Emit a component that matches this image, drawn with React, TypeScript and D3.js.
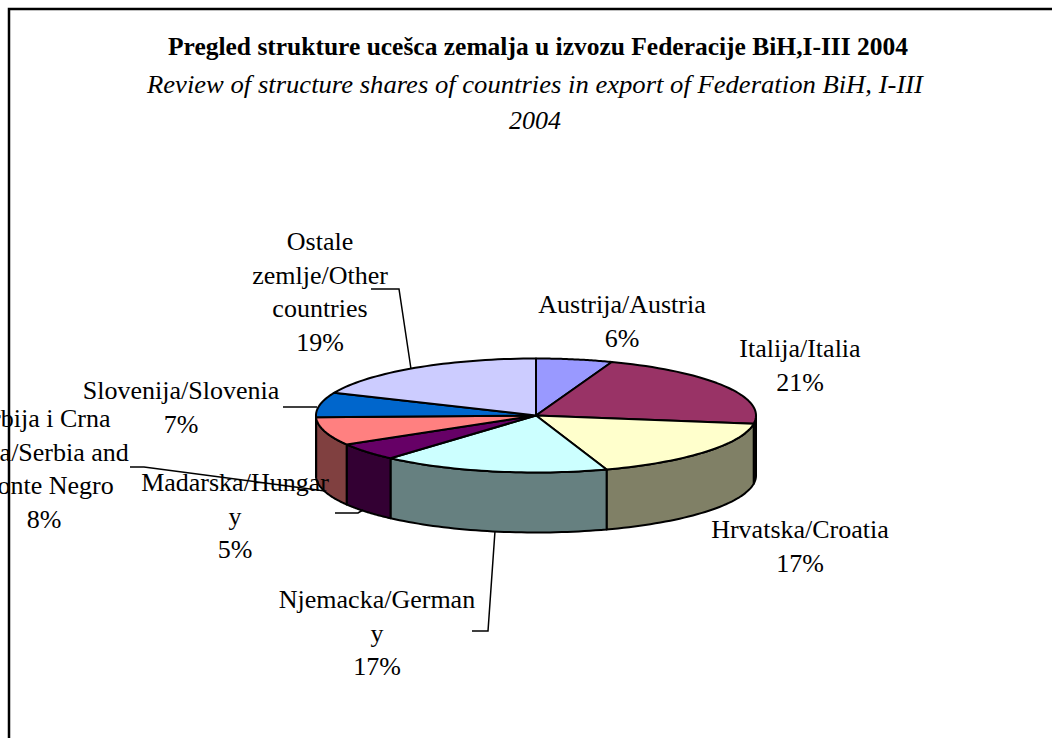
import React from "react";
import * as d3 from "d3";

// data
const countries = ["Austria", "Italy", "Croatia", "Germany", "Hungary", "SerbiaMN", "Slovenia", "Other"];
const shares = [5.6, 21.7, 17.5, 16.7, 5, 8, 7, 18.5];
const topColors = ["#9999FF", "#993366", "#FFFFCC", "#CCFFFF", "#660066", "#FF8080", "#0066CC", "#CCCCFF"];
const sideColors = ["#4d4d80", "#4d1a33", "#808066", "#668080", "#330033", "#804040", "#003366", "#666680"];
const labelLines = [
  ["Austrija/Austria", "6%"],
  ["Italija/Italia", "21%"],
  ["Hrvatska/Croatia", "17%"],
  ["Njemacka/German", "y", "17%"],
  ["Madarska/Hungar", "y", "5%"],
  ["Srbija i Crna", "Gora/Serbia and", "Monte Negro", "8%"],
  ["Slovenija/Slovenia", "7%"],
  ["Ostale", "zemlje/Other", "countries", "19%"],
];

// layout
const width = 1052;
const height = 738;
const cx = 536;
const cy = 415.5;
const rx = 220;
const ry = 57;
const depth = 60;
const labelPos: [number, number][] = [
  [622, 313], [800, 357], [800, 538], [377, 608], [235, 491], [44, 427], [181, 399], [320, 250],
];
const leaders: [number, number][][] = [
  [], [], [],
  [[472, 631], [488, 631], [495, 531]],
  [[335, 513], [358, 513], [363, 510]],
  [[130, 467], [144, 467], [325, 491]],
  [[283, 407], [317, 407]],
  [[371, 289], [399, 289], [411, 369]],
];

const pt = (a: number, dy = 0): [number, number] => [cx + rx * Math.sin(a), cy - ry * Math.cos(a) + dy];
const arcPts = (a0: number, a1: number, dy = 0) =>
  d3.range(0, 41).map((i) => pt(a0 + ((a1 - a0) * i) / 40, dy));
const line = d3.line();

export default function App() {
  const arcs = d3.pie<number>().sort(null)(shares);
  const font = "'Liberation Serif', serif";

  return (
    <svg width={width} height={height} style={{ position: "absolute", left: 0, top: 0, background: "#fff" }}>
      <path d={`M9,${height} V9 H${width}`} fill="none" stroke="#000" strokeWidth={2.5} />

      <g fontFamily={font} textAnchor="middle" fill="#000">
        <text x={538} y={55} fontSize={25.5} fontWeight="bold" textLength={740} lengthAdjust="spacingAndGlyphs">Pregled strukture ucešca zemalja u izvozu Federacije BiH,I-III 2004</text>
        <text x={535} y={93} fontSize={26} fontStyle="italic" textLength={776} lengthAdjust="spacingAndGlyphs">Review of structure shares of countries in export of Federation BiH, I-III</text>
        <text x={535} y={129} fontSize={26} fontStyle="italic">2004</text>
      </g>

      {/* side walls, only the front half shows */}
      {arcs.map((d, i) => {
        const a0 = Math.max(d.startAngle, Math.PI / 2);
        const a1 = Math.min(d.endAngle, (3 * Math.PI) / 2);
        if (a1 <= a0) return null;
        const pts = [...arcPts(a0, a1), ...arcPts(a0, a1, depth).reverse()];
        return <path key={countries[i]} d={line(pts) + "Z"} fill={sideColors[i]} stroke="#000" strokeWidth={2} strokeLinejoin="round" />;
      })}

      {/* top face */}
      {arcs.map((d, i) => {
        const pts = [[cx, cy] as [number, number], ...arcPts(d.startAngle, d.endAngle)];
        return <path key={countries[i]} d={line(pts) + "Z"} fill={topColors[i]} stroke="#000" strokeWidth={2} strokeLinejoin="round" />;
      })}

      <g fontFamily={font} fontSize={26} textAnchor="middle" fill="#000">
        {labelLines.map((lines, i) => (
          <text key={countries[i]} x={labelPos[i][0]} y={labelPos[i][1]}>
            {lines.map((t, j) => (
              <tspan key={j} x={labelPos[i][0]} dy={j === 0 ? 0 : 33.5}>{t}</tspan>
            ))}
          </text>
        ))}
      </g>

      {leaders.map((l, i) => l.length > 0 && (
        <path key={countries[i]} d={line(l) ?? ""} fill="none" stroke="#000" strokeWidth={1.5} />
      ))}
    </svg>
  );
}
